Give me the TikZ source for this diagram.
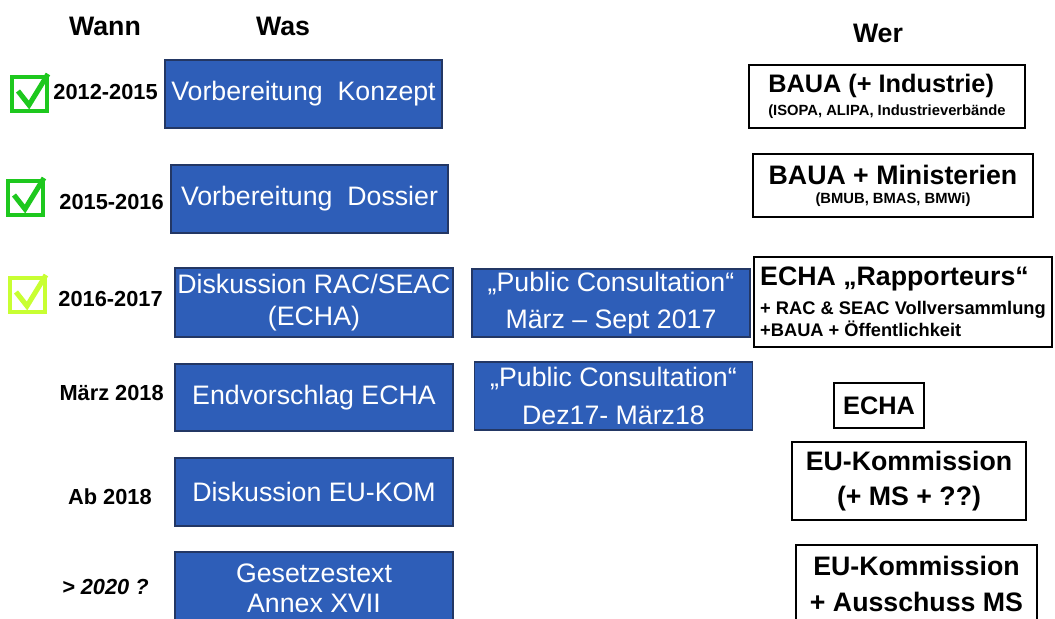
\documentclass[tikz,border=0pt]{standalone}
\usepackage{fontspec}
\setmainfont{Liberation Sans}
\definecolor{wasBlue}{RGB}{46, 94, 184}
\definecolor{wasEdge}{RGB}{35, 55, 100}
\definecolor{doneGreen}{RGB}{30, 200, 30}
\definecolor{partGreen}{RGB}{200, 255, 50}
\newcommand{\pxu}{0.025cm}
\tikzset{
  wasbox/.style={rectangle, draw=wasEdge, fill=wasBlue, line width=0.8pt,
                 text=white, minimum width=278*\pxu, minimum height=68*\pxu,
                 align=center, inner sep=0pt, font=\fontsize{19}{23}\selectfont},
  pcbox/.style={wasbox, font=\fontsize{19}{26.5}\selectfont},
  werbox/.style={rectangle, draw=black, fill=white, line width=0.8pt,
                 inner sep=0pt, font=\bfseries},
  datum/.style={anchor=east, inner sep=0pt, font=\fontsize{15.5}{18}\selectfont\bfseries},
  kopf/.style={font=\fontsize{19}{22}\selectfont\bfseries},
  haken/.style={line width=2.8pt},
}

\begin{document}
\begin{tikzpicture}[x=\pxu, y=-\pxu]
    \clip (0,0) rectangle (1055,619);

    % Spaltenkoepfe
    \node[kopf] (wann) at (105,26)  {Wann};
    \node[kopf] (was)  at (283,26)  {Was};
    \node[kopf] (wer)  at (878,33)  {Wer};

    % Wann
    \node[datum] (d1) at (158,92)  {2012-2015};
    \node[datum] (d2) at (164,202) {2015-2016};
    \node[datum] (d3) at (163,299) {2016-2017};
    \node[datum] (d4) at (164,393) {März 2018};
    \node[datum] (d5) at (152,497) {Ab 2018};
    \node[datum] (d6) at (149,587) {\itshape > 2020 ?};

    % erledigt
    \foreach \bx/\by/\farbe in {12/77/doneGreen, 8/181/doneGreen, 10/278/partGreen}{
      \begin{scope}[shift={(\bx,\by)}]
        \draw[haken, draw=\farbe] (0,0) rectangle (35,34);
        \draw[haken, draw=\farbe, line width=3.6pt] (6,14) -- (17,28) -- (36,-3);
      \end{scope}
    }

    % Was
    \node[wasbox, minimum width=277*\pxu] (konzept) at (303.5,94)  {Vorbereitung\ \ Konzept};
    \node[wasbox, minimum width=277*\pxu] (dossier) at (309.5,199) {Vorbereitung\ \ Dossier};
    \node[wasbox, minimum height=69*\pxu] (racseac) at (314,302.5) {Diskussion RAC/SEAC\\(ECHA)};
    \node[wasbox, minimum height=67*\pxu] (endvor)  at (314,397.5) {Endvorschlag ECHA};
    \node[wasbox]                         (eukom)   at (314,492)   {Diskussion EU-KOM};
    \node[wasbox, minimum height=72*\pxu, font=\fontsize{19}{21.5}\selectfont]
         (gesetz) at (314,588) {Gesetzestext\\Annex XVII};

    % Public Consultation
    \node[pcbox] (pc1) at (611,303)   {„Public Consultation“\\März – Sept 2017};
    \node[pcbox] (pc2) at (613.5,396) {„Public Consultation“\\Dez17- März18};

    % Wer
    \node[werbox, minimum width=276*\pxu, minimum height=63*\pxu, align=left,
          font=\bfseries\fontsize{10.5}{16.4}\selectfont] (baua) at (887,96.5)
         {{\fontsize{18}{16.4}\selectfont BAUA (+ Industrie)}\\(ISOPA, ALIPA, Industrieverbände};
    \node[werbox, minimum width=280*\pxu, minimum height=63*\pxu, align=center,
          font=\bfseries\fontsize{10.5}{13.5}\selectfont] (minist) at (893,185.5)
         {{\fontsize{19}{13.5}\selectfont BAUA + Ministerien}\\(BMUB, BMAS, BMWi)};
    \node[werbox, minimum width=298*\pxu, minimum height=90*\pxu, align=left,
          font=\bfseries\fontsize{13}{15.6}\selectfont] (rapp) at (903,302)
         {{\fontsize{19}{15.6}\selectfont ECHA „Rapporteurs“}\\[5pt]+ RAC \& SEAC Vollversammlung\\+BAUA + Öffentlichkeit};
    \node[werbox, minimum width=90*\pxu, minimum height=45*\pxu,
          font=\bfseries\fontsize{18}{20}\selectfont] (echa) at (879,405.5) {ECHA};
    \node[werbox, minimum width=234*\pxu, minimum height=78*\pxu, align=center,
          font=\bfseries\fontsize{19}{25}\selectfont] (kom) at (909,481)
         {EU-Kommission\\(+ MS + ??)};
    \node[werbox, minimum width=241*\pxu, minimum height=77*\pxu, align=center,
          font=\bfseries\fontsize{19}{25.6}\selectfont] (ausschuss) at (916.5,583.5)
         {EU-Kommission\\+ Ausschuss MS};
\end{tikzpicture}
\end{document}
